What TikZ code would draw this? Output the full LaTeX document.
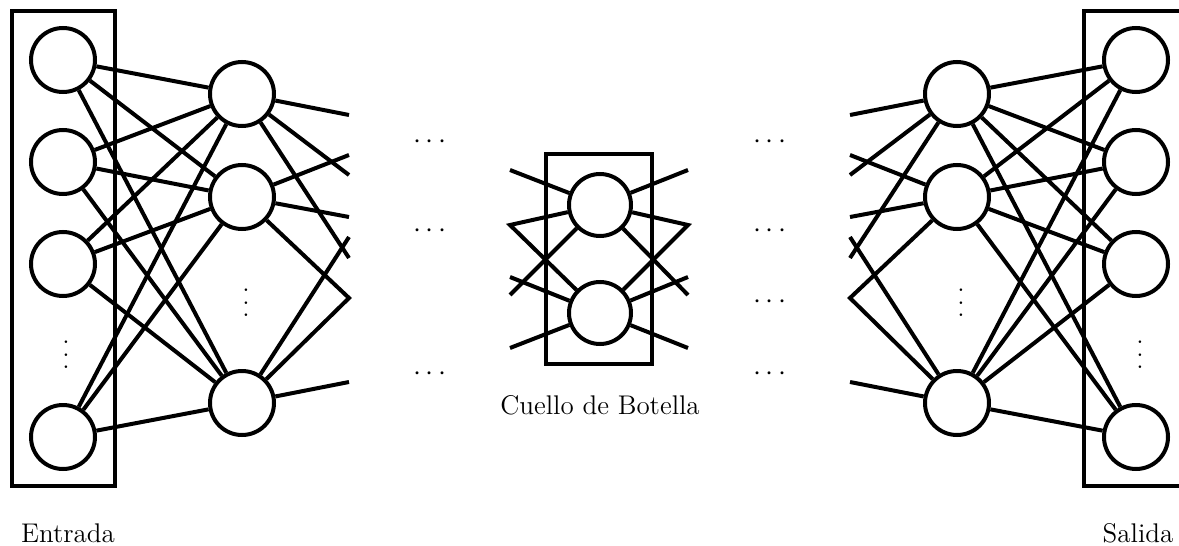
\documentclass[tikz,border=0pt]{standalone}
\newcommand\myvdots{\vbox{\baselineskip=6.25pt\lineskiplimit=0pt\hbox{.}\hbox{.}\hbox{.}}}
\begin{document}
\begin{tikzpicture}[x=0.5pt,y=-0.5pt,
  neuron/.style={circle,draw,line width=2pt,minimum size=32pt,inner sep=0pt,fill=white},
  bneuron/.style={neuron,minimum size=31pt},
  conn/.style={line width=2pt},
  frame/.style={line width=2.3pt},
  lbl/.style={font=\fontsize{13.5}{16}\selectfont,inner sep=0pt},
  hdots/.style={font=\fontsize{13.5}{16}\selectfont,inner sep=0pt,anchor=base},
  vdotsnode/.style={font=\fontsize{13.5}{16}\selectfont,inner sep=0pt}]
\useasboundingbox (0,0) rectangle (1179,546);

% frames
\draw[frame] (12,11) rectangle (115,486);
\draw[frame] (546,154) rectangle (652,364);
\draw[frame] (1084,11) rectangle (1189,486);

% input layer
\node[neuron] (i1) at (63,60) {};
\node[neuron] (i2) at (63,162) {};
\node[neuron] (i3) at (63,264) {};
\node[vdotsnode] (id) at (66,355) {\myvdots};
\node[neuron] (i4) at (63,437) {};

% first hidden layer
\node[neuron] (h1) at (242,94) {};
\node[neuron] (h2) at (242,197) {};
\node[vdotsnode] (hd) at (246,303) {\myvdots};
\node[neuron] (h3) at (242,403) {};

% bottleneck
\node[bneuron] (b1) at (600,205) {};
\node[bneuron] (b2) at (600,313) {};

% last hidden layer
\node[neuron] (r1) at (957,94) {};
\node[neuron] (r2) at (957,197) {};
\node[vdotsnode] (rd) at (961,303) {\myvdots};
\node[neuron] (r3) at (957,403) {};

% output layer
\node[neuron] (o1) at (1136,60) {};
\node[neuron] (o2) at (1136,162) {};
\node[neuron] (o3) at (1136,264) {};
\node[vdotsnode] (od) at (1140,355) {\myvdots};
\node[neuron] (o4) at (1136,437) {};

% horizontal dots
\node[hdots] (dl1) at (430,148.75) {$\cdots$};
\node[hdots] (dl2) at (430,237.75) {$\cdots$};
\node[hdots] (dl3) at (430,380.75) {$\cdots$};
\node[hdots] (dr1) at (770,148.75) {$\cdots$};
\node[hdots] (dr2) at (770,237.75) {$\cdots$};
\node[hdots] (dr3) at (770,308.75) {$\cdots$};
\node[hdots] (dr4) at (770,380.75) {$\cdots$};

% labels
\node[lbl] (lin) at (68,533) {Entrada};
\node[lbl] (lbn) at (600,405) {Cuello de Botella};
\node[lbl] (lout) at (1138,533) {Salida};

% free ends
\coordinate (L1) at (349,115);
\coordinate (L2) at (349,155);
\coordinate (L3) at (349,175);
\coordinate (L4) at (349,217);
\coordinate (L5) at (349,237);
\coordinate (L6) at (349,258);
\coordinate (L7) at (349,298);
\coordinate (L8) at (349,382);
\coordinate (B1) at (510,170);
\coordinate (B2) at (510,225);
\coordinate (B3) at (510,277);
\coordinate (B4) at (510,295);
\coordinate (B5) at (510,348);
\coordinate (C1) at (688,170);
\coordinate (C2) at (688,225);
\coordinate (C3) at (688,277);
\coordinate (C4) at (688,295);
\coordinate (C5) at (688,348);
\coordinate (R1) at (850,115);
\coordinate (R2) at (850,155);
\coordinate (R3) at (850,175);
\coordinate (R4) at (850,217);
\coordinate (R5) at (850,237);
\coordinate (R6) at (850,258);
\coordinate (R7) at (850,298);
\coordinate (R8) at (850,382);

% input -> hidden
\foreach \a in {i1,i2,i3,i4}
  \foreach \b in {h1,h2,h3}
    \draw[conn] (\a) -- (\b);

% hidden -> output
\foreach \a in {r1,r2,r3}
  \foreach \b in {o1,o2,o3,o4}
    \draw[conn] (\a) -- (\b);

% hidden -> cut
\draw[conn] (h1) -- (L1);
\draw[conn] (h1) -- (L3);
\draw[conn] (h1) -- (L6);
\draw[conn] (h2) -- (L2);
\draw[conn] (h2) -- (L4);
\draw[conn,line join=miter] (h2) -- (L7) -- (h3);
\draw[conn] (h3) -- (L5);
\draw[conn] (h3) -- (L8);

% bottleneck -> cuts
\draw[conn] (b1) -- (B1);
\draw[conn,line join=miter] (b1) -- (B2) -- (b2);
\draw[conn] (b1) -- (B4);
\draw[conn] (b2) -- (B3);
\draw[conn] (b2) -- (B5);
\draw[conn] (b1) -- (C1);
\draw[conn,line join=miter] (b1) -- (C2) -- (b2);
\draw[conn] (b1) -- (C4);
\draw[conn] (b2) -- (C3);
\draw[conn] (b2) -- (C5);

% cut -> last hidden
\draw[conn] (r1) -- (R1);
\draw[conn] (r1) -- (R3);
\draw[conn] (r1) -- (R6);
\draw[conn] (r2) -- (R2);
\draw[conn] (r2) -- (R4);
\draw[conn,line join=miter] (r2) -- (R7) -- (r3);
\draw[conn] (r3) -- (R5);
\draw[conn] (r3) -- (R8);
\end{tikzpicture}
\end{document}
